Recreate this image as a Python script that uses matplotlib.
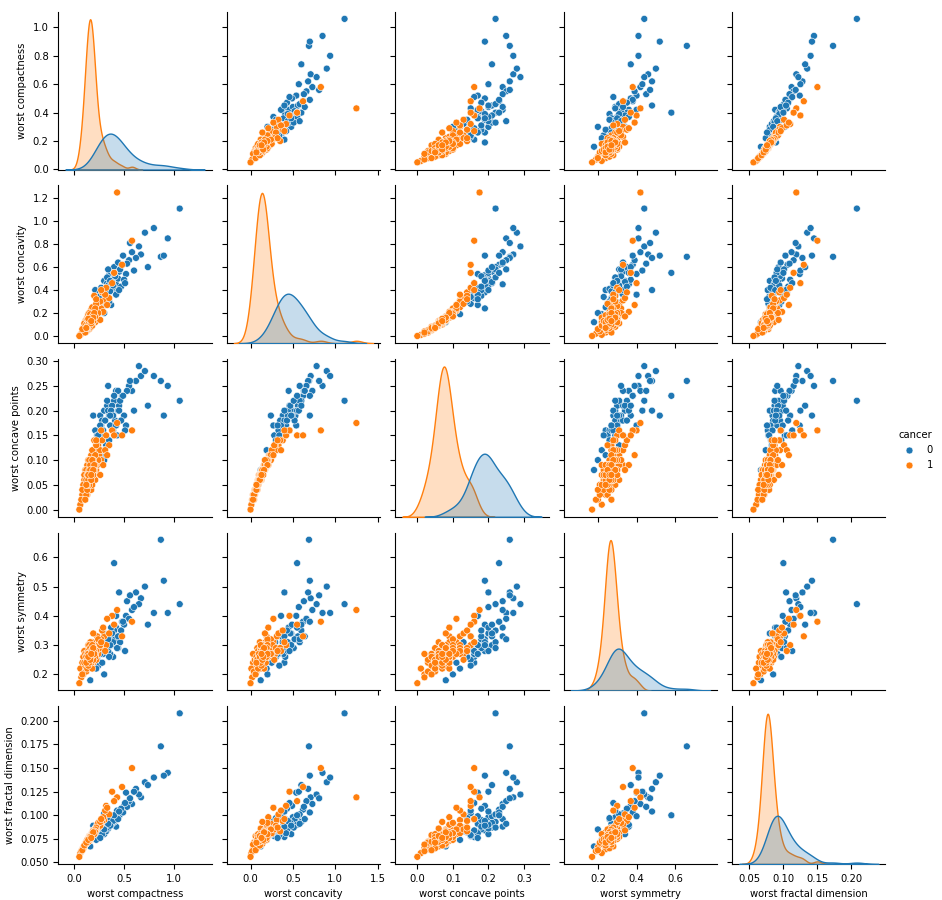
import matplotlib
matplotlib.use("Agg")
import matplotlib.pyplot as plt
import seaborn as sns
import pandas as pd

cols = ["worst compactness", "worst concavity", "worst concave points",
        "worst symmetry", "worst fractal dimension"]

# class 0 (malignant) estimated samples: compactness, concavity, concave pts, symmetry, fractal
class0 = [
    [0.67,0.71,0.27,0.46,0.119],[0.19,0.24,0.19,0.28,0.089],[0.42,0.45,0.24,0.36,0.088],
    [0.87,0.69,0.26,0.66,0.173],[0.21,0.40,0.16,0.24,0.077],[0.52,0.54,0.17,0.40,0.124],
    [0.26,0.38,0.19,0.31,0.084],[0.37,0.27,0.17,0.30,0.094],[0.44,0.50,0.20,0.29,0.098],
    [1.06,1.11,0.22,0.44,0.208],[0.30,0.36,0.15,0.33,0.102],[0.94,0.85,0.25,0.41,0.145],
    [0.30,0.48,0.20,0.34,0.080],[0.35,0.53,0.19,0.32,0.090],[0.39,0.41,0.16,0.26,0.096],
    [0.33,0.46,0.21,0.30,0.087],[0.25,0.31,0.14,0.28,0.082],[0.48,0.62,0.23,0.38,0.106],
    [0.58,0.73,0.24,0.42,0.112],[0.28,0.35,0.18,0.29,0.085],[0.45,0.56,0.21,0.33,0.099],
    [0.36,0.39,0.17,0.27,0.091],[0.40,0.60,0.22,0.35,0.093],[0.32,0.29,0.13,0.31,0.083],
    [0.62,0.68,0.26,0.48,0.128],[0.23,0.28,0.15,0.25,0.078],[0.50,0.49,0.19,0.37,0.110],
    [0.41,0.52,0.18,0.32,0.095],[0.34,0.44,0.20,0.28,0.086],[0.27,0.42,0.17,0.30,0.081],
    [0.55,0.66,0.25,0.39,0.115],[0.38,0.47,0.21,0.34,0.092],[0.29,0.33,0.16,0.27,0.084],
    [0.46,0.58,0.22,0.31,0.101],[0.71,0.90,0.28,0.50,0.135],[0.43,0.38,0.15,0.29,0.105],
    [0.31,0.40,0.18,0.33,0.088],[0.65,0.78,0.29,0.44,0.122],[0.24,0.34,0.15,0.23,0.079],
    [0.53,0.63,0.24,0.45,0.109],[0.37,0.55,0.20,0.36,0.090],[0.80,0.94,0.27,0.41,0.140],
    [0.35,0.30,0.14,0.26,0.097],[0.49,0.70,0.23,0.38,0.103],[0.22,0.19,0.12,0.22,0.074],
    [0.60,0.57,0.20,0.43,0.125],[0.39,0.44,0.19,0.31,0.094],[0.33,0.51,0.22,0.29,0.087],
    [0.47,0.43,0.18,0.35,0.107],[0.28,0.25,0.11,0.24,0.080],[0.56,0.81,0.26,0.47,0.118],
    [0.42,0.36,0.17,0.40,0.099],[0.36,0.48,0.19,0.30,0.089],[0.74,0.60,0.21,0.37,0.132],
    [0.30,0.20,0.10,0.20,0.085],[0.44,0.64,0.24,0.33,0.096],[0.51,0.46,0.16,0.28,0.113],
    [0.26,0.32,0.17,0.27,0.076],[0.40,0.55,0.23,0.58,0.100],[0.90,0.70,0.19,0.52,0.142],
    [0.16,0.12,0.08,0.18,0.067],[0.34,0.58,0.25,0.32,0.091],[0.45,0.40,0.20,0.48,0.104],
]

# class 1 (benign) estimated samples
class1 = [
    [0.16,0.14,0.08,0.27,0.077],[0.10,0.05,0.04,0.26,0.068],[0.20,0.18,0.09,0.29,0.082],
    [0.14,0.11,0.07,0.25,0.075],[0.25,0.27,0.11,0.31,0.088],[0.08,0.03,0.03,0.24,0.064],
    [0.18,0.20,0.10,0.28,0.080],[0.12,0.09,0.06,0.23,0.072],[0.30,0.31,0.12,0.33,0.095],
    [0.22,0.15,0.08,0.30,0.085],[0.06,0.01,0.01,0.22,0.060],[0.15,0.17,0.09,0.26,0.074],
    [0.17,0.13,0.06,0.28,0.079],[0.11,0.07,0.05,0.21,0.070],[0.27,0.24,0.10,0.32,0.091],
    [0.19,0.22,0.11,0.27,0.083],[0.13,0.10,0.07,0.24,0.073],[0.35,0.33,0.13,0.34,0.101],
    [0.09,0.04,0.02,0.20,0.066],[0.21,0.26,0.12,0.30,0.086],[0.16,0.16,0.08,0.25,0.076],
    [0.14,0.08,0.05,0.29,0.074],[0.24,0.29,0.13,0.27,0.087],[0.12,0.12,0.07,0.22,0.071],
    [0.43,1.25,0.175,0.42,0.119],[0.18,0.11,0.06,0.31,0.081],[0.07,0.02,0.02,0.19,0.062],
    [0.20,0.21,0.10,0.26,0.084],[0.28,0.38,0.14,0.35,0.094],[0.15,0.06,0.04,0.27,0.078],
    [0.11,0.13,0.08,0.23,0.069],[0.23,0.19,0.09,0.33,0.090],[0.17,0.23,0.11,0.28,0.080],
    [0.13,0.05,0.03,0.25,0.072],[0.32,0.42,0.15,0.30,0.110],[0.19,0.14,0.07,0.24,0.082],
    [0.10,0.09,0.06,0.28,0.067],[0.26,0.30,0.12,0.29,0.089],[0.16,0.18,0.09,0.31,0.077],
    [0.05,0.00,0.00,0.17,0.056],[0.21,0.12,0.06,0.26,0.086],[0.14,0.15,0.08,0.30,0.075],
    [0.38,0.46,0.16,0.40,0.125],[0.18,0.25,0.12,0.27,0.081],[0.12,0.04,0.03,0.21,0.071],
    [0.22,0.28,0.13,0.25,0.085],[0.09,0.07,0.05,0.26,0.065],[0.29,0.21,0.09,0.36,0.098],
    [0.15,0.10,0.06,0.24,0.076],[0.20,0.35,0.14,0.29,0.083],[0.58,0.83,0.16,0.38,0.150],
    [0.13,0.16,0.09,0.22,0.073],[0.24,0.20,0.10,0.32,0.092],[0.17,0.08,0.04,0.23,0.079],
    [0.11,0.03,0.02,0.27,0.069],[0.31,0.36,0.12,0.28,0.105],[0.19,0.17,0.08,0.34,0.084],
    [0.14,0.19,0.10,0.26,0.074],[0.26,0.14,0.07,0.30,0.093],[0.08,0.06,0.04,0.20,0.063],
    [0.22,0.32,0.14,0.28,0.087],[0.16,0.12,0.07,0.29,0.078],[0.40,0.55,0.15,0.37,0.115],
    [0.12,0.14,0.08,0.25,0.070],[0.18,0.09,0.05,0.22,0.080],[0.27,0.40,0.16,0.31,0.096],
    [0.10,0.11,0.07,0.24,0.068],[0.21,0.24,0.11,0.27,0.085],[0.15,0.20,0.10,0.30,0.077],
    [0.33,0.27,0.11,0.39,0.108],[0.13,0.07,0.04,0.26,0.072],[0.48,0.62,0.15,0.33,0.130],
    [0.15,0.13,0.07,0.26,0.076],[0.17,0.16,0.09,0.25,0.078],[0.14,0.12,0.06,0.28,0.073],
    [0.18,0.15,0.08,0.27,0.079],[0.16,0.11,0.06,0.24,0.075],[0.19,0.19,0.10,0.29,0.081],
    [0.13,0.14,0.07,0.27,0.074],[0.15,0.09,0.05,0.25,0.077],[0.20,0.16,0.08,0.28,0.083],
    [0.12,0.10,0.06,0.26,0.072],[0.17,0.18,0.09,0.24,0.076],[0.16,0.15,0.08,0.29,0.078],
    [0.14,0.13,0.07,0.23,0.075],[0.18,0.12,0.07,0.30,0.080],[0.21,0.17,0.09,0.26,0.082],
    [0.15,0.16,0.08,0.27,0.073],[0.13,0.08,0.05,0.25,0.074],[0.17,0.14,0.08,0.28,0.077],
    [0.19,0.13,0.07,0.25,0.079],[0.16,0.19,0.09,0.26,0.076],[0.14,0.10,0.06,0.27,0.072],
    [0.18,0.17,0.10,0.28,0.081],[0.15,0.12,0.07,0.24,0.075],[0.17,0.11,0.06,0.26,0.078],
    [0.20,0.20,0.09,0.27,0.080],[0.12,0.07,0.05,0.24,0.071],[0.16,0.14,0.08,0.25,0.077],
    [0.19,0.16,0.08,0.29,0.082],[0.14,0.15,0.07,0.26,0.074],[0.17,0.13,0.07,0.27,0.076],
]

df = pd.DataFrame(class0 + class1, columns=cols)
df["cancer"] = [0] * len(class0) + [1] * len(class1)

plt.rcParams["font.size"] = 7.2
plt.rcParams["axes.labelsize"] = 7.2
plt.rcParams["xtick.labelsize"] = 7.2
plt.rcParams["ytick.labelsize"] = 7.2
plt.rcParams["legend.fontsize"] = 7.2
plt.rcParams["legend.title_fontsize"] = 7.2

g = sns.pairplot(df, hue="cancer", vars=cols, height=1.76, plot_kws={"s": 25})
g.figure.set_size_inches(9.42, 9.0)
g.figure.subplots_adjust(left=0.062, right=0.94, bottom=0.04, top=0.987,
                         wspace=0.1, hspace=0.1)
g.axes[4, 3].set_xticks([0.2, 0.4, 0.6])
g.axes[4, 4].set_xticks([0.05, 0.10, 0.15, 0.20])
g.figure.savefig("out.png", dpi=100)
